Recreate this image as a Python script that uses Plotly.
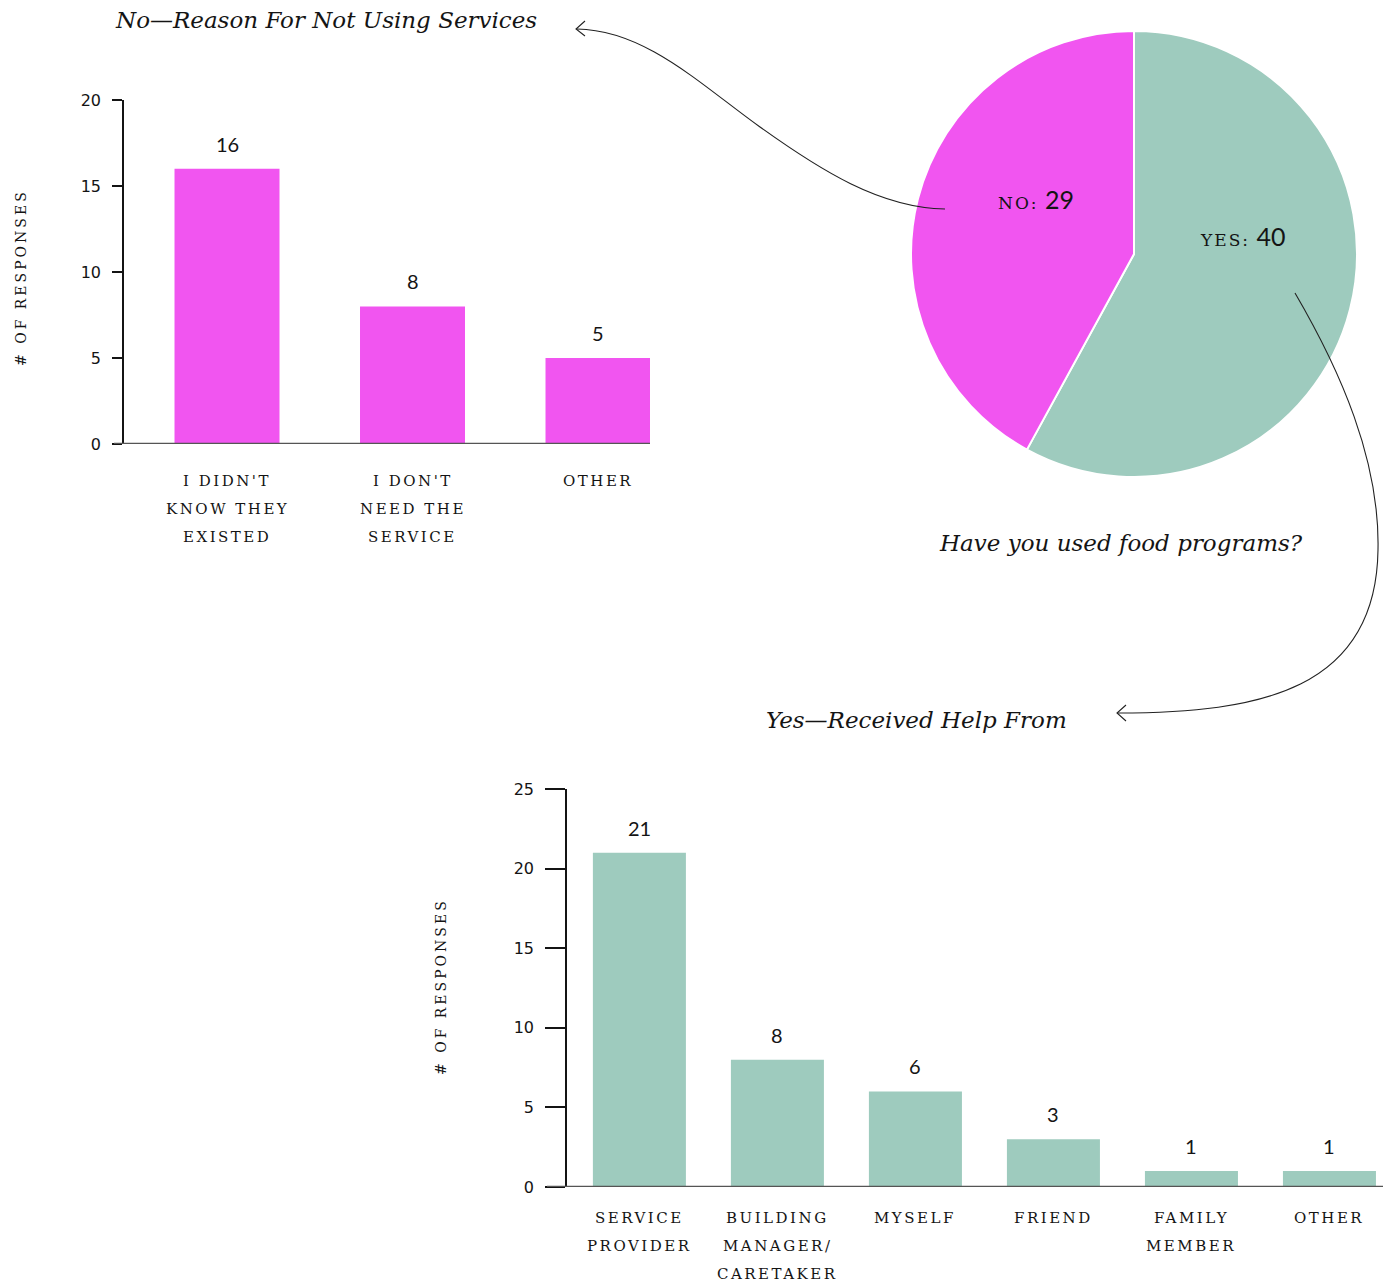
import plotly.graph_objects as go

# ---- data ----
no_reasons = ["I DIDN'T\nKNOW THEY\nEXISTED", "I DON'T\nNEED THE\nSERVICE", "OTHER"]
no_counts = [16, 8, 5]

used_labels = ["YES", "NO"]
used_counts = [40, 29]

help_sources = ["SERVICE\nPROVIDER", "BUILDING\nMANAGER/\nCARETAKER", "MYSELF", "FRIEND",
                "FAMILY\nMEMBER", "OTHER"]
help_counts = [21, 8, 6, 3, 1, 1]

top_ticks = [0, 5, 10, 15, 20]
bottom_ticks = [0, 5, 10, 15, 20, 25]

# ---- style ----
W, H = 1383, 1282
PINK = "#F155F0"
TEAL = "#9ECBBE"
INK = "#141414"
BASE = "#555555"
SERIF = "DejaVu Serif"
SANS = "Lato"


def px(x):
    return x / W


def py(y):
    return 1 - y / H


def caps(text, size=15, spacing=2.5):
    return (f"<span style='font-size:{size}px;letter-spacing:{spacing}px;"
            f"font-family:\"{SERIF}\"'>{text}</span>")


fig = go.Figure()

# top bar chart: reasons for not using services
fig.add_trace(go.Bar(
    x=list(range(len(no_counts))), y=no_counts, width=0.566,
    marker=dict(color=PINK, line=dict(width=0)),
    xaxis="x", yaxis="y", hoverinfo="skip", showlegend=False,
))

# pie: have you used food programs
fig.add_trace(go.Pie(
    values=used_counts, labels=used_labels, sort=False, direction="clockwise",
    rotation=0, marker=dict(colors=[TEAL, PINK], line=dict(color="white", width=2)),
    textinfo="none", hoverinfo="skip", showlegend=False,
    domain=dict(x=[px(911), px(1357)], y=[py(477), py(31)]),
))

# bottom bar chart: who the help came from
fig.add_trace(go.Bar(
    x=list(range(len(help_counts))), y=help_counts, width=0.674,
    marker=dict(color=TEAL, line=dict(width=0)),
    xaxis="x2", yaxis="y2", hoverinfo="skip", showlegend=False,
))

ax_common = dict(showgrid=False, zeroline=False, fixedrange=True, automargin=False)
tickfont = dict(family="DejaVu Sans", size=16, color=INK)

fig.update_layout(
    template="none",
    width=W, height=H, margin=dict(l=0, r=0, t=0, b=0, pad=0, autoexpand=False),
    paper_bgcolor="white", plot_bgcolor="white",
    xaxis=dict(domain=[px(124), px(650)], range=[-0.5553, 2.2803], anchor="y",
               showline=False, showticklabels=False, ticks="", **ax_common),
    yaxis=dict(domain=[py(444), py(100)], range=[0, 20], anchor="x",
               tickvals=top_ticks, ticks="outside", ticklen=10, tickwidth=1.5,
               tickcolor=INK, showline=True, linecolor=INK, linewidth=1.5,
               tickfont=tickfont, ticklabelstandoff=8, **ax_common),
    xaxis2=dict(domain=[px(567), 1.0], range=[-0.5246, 5.388], anchor="y2",
                showline=False, showticklabels=False, ticks="", **ax_common),
    yaxis2=dict(domain=[py(1187), py(789)], range=[0, 25], anchor="x2",
                tickvals=bottom_ticks, ticks="outside", ticklen=20, tickwidth=1.5,
                tickcolor=INK, showline=True, linecolor=INK, linewidth=1.5,
                tickfont=tickfont, ticklabelstandoff=8, **ax_common),
)

shapes = [
    # baselines
    dict(type="line", xref="paper", yref="y", x0=px(114), x1=px(650), y0=0, y1=0,
         line=dict(color=BASE, width=2.5), layer="above"),
    dict(type="line", xref="paper", yref="y2", x0=px(547), x1=1.0, y0=0, y1=0,
         line=dict(color=BASE, width=2.5), layer="above"),
]


def path_px(cmds):
    out = []
    for c in cmds:
        if isinstance(c, str):
            out.append(c)
        else:
            out.append(f"{px(c[0]):.5f},{py(c[1]):.5f}")
    return " ".join(out)


connector = dict(color="#222222", width=1.1)
# curved connector from the "no" slice to the top chart
shapes.append(dict(type="path", xref="paper", yref="paper", line=connector,
                   path=path_px(["M", (945, 209), "C", (880, 208), (820, 170), (760, 127),
                                 "C", (700, 84), (645, 30), (577, 29)])))
shapes.append(dict(type="path", xref="paper", yref="paper", line=connector,
                   path=path_px(["M", (585, 21), "L", (576, 29), "L", (585, 36)])))
# curved connector from the "yes" slice to the bottom chart
shapes.append(dict(type="path", xref="paper", yref="paper", line=connector,
                   path=path_px(["M", (1295, 293), "C", (1340, 370), (1380, 460), (1378, 550),
                                 "C", (1376, 690), (1260, 713), (1118, 713)])))
shapes.append(dict(type="path", xref="paper", yref="paper", line=connector,
                   path=path_px(["M", (1126, 705), "L", (1117, 713), "L", (1126, 721)])))
fig.update_layout(shapes=shapes)

ann = []

# value labels above bars
for xr, yr, counts in (("x", "y", no_counts), ("x2", "y2", help_counts)):
    for i, v in enumerate(counts):
        ann.append(dict(xref=xr, yref=yr, x=i, y=v, text=str(v), showarrow=False,
                        xanchor="center", yanchor="bottom", yshift=11,
                        font=dict(family=SANS, size=20, color=INK)))

# category labels, one annotation per line
for xr, yr, cats, first_gap in (("x", "y", no_reasons, 37), ("x2", "y2", help_sources, 31)):
    for i, cat in enumerate(cats):
        for j, line in enumerate(cat.split("\n")):
            ann.append(dict(xref=xr, yref=yr, x=i, y=0, text=caps(line), showarrow=False,
                            xanchor="center", yanchor="middle", yshift=-(first_gap + 28 * j),
                            font=dict(family=SERIF, size=15, color=INK)))

# axis titles
for cx, cy in ((21, 278), (441, 987)):
    ann.append(dict(xref="paper", yref="paper", x=px(cx), y=py(cy),
                    text=caps("# OF RESPONSES", 14, 3), textangle=-90, showarrow=False,
                    xanchor="center", yanchor="middle",
                    font=dict(family=SERIF, size=14, color=INK)))

# pie labels
for lab, val, cx, cy in ((used_labels[1], used_counts[1], 1036, 199),
                         (used_labels[0], used_counts[0], 1242, 236)):
    ann.append(dict(xref="paper", yref="paper", x=px(cx), y=py(cy),
                    text=caps(f"{lab}:", 17, 2) + f" {val}", showarrow=False,
                    xanchor="center", yanchor="middle",
                    font=dict(family=SANS, size=25, color=INK)))

# section titles
title_font = dict(family=SERIF, size=23, color=INK, style="italic")
for txt, cx, cy in (("No—Reason For Not Using Services", 326, 20),
                    ("Have you used food programs?", 1121, 543),
                    ("Yes—Received Help From", 917, 720)):
    ann.append(dict(xref="paper", yref="paper", x=px(cx), y=py(cy), text=txt,
                    showarrow=False, xanchor="center", yanchor="middle", font=title_font))

fig.update_layout(annotations=ann)

fig.write_html("out.html", config={"displayModeBar": False})
